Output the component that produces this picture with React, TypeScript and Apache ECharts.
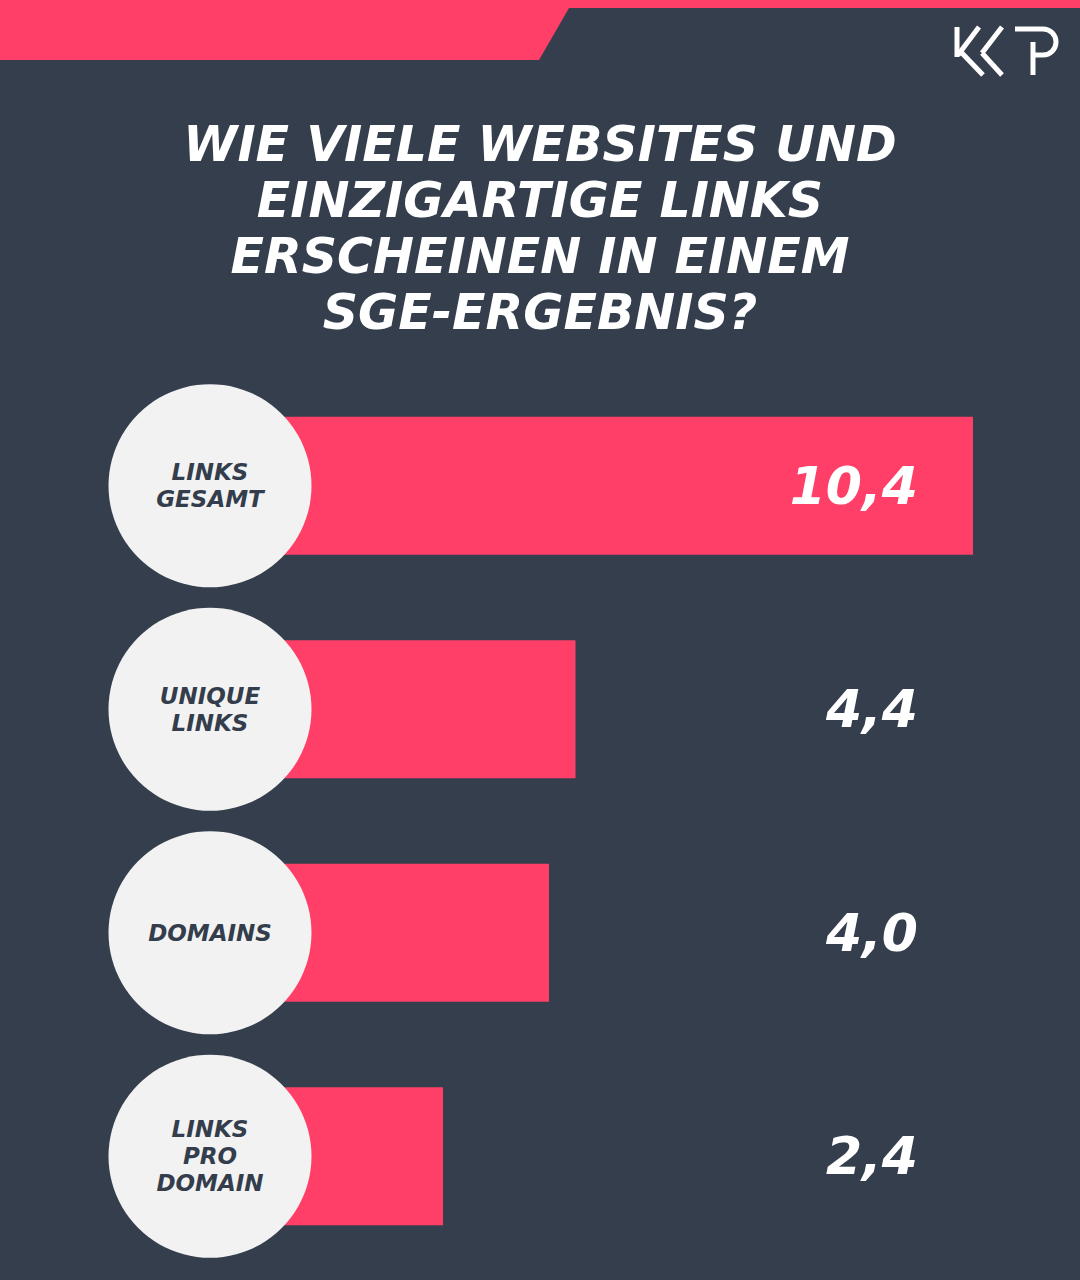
import React, { useEffect, useRef } from "react";
import * as echarts from "echarts";

const categories = ["LINKS\nGESAMT", "UNIQUE\nLINKS", "DOMAINS", "LINKS\nPRO\nDOMAIN"];
const values = [10.4, 4.4, 4.0, 2.4];
const titleLines = ["WIE VIELE WEBSITES UND", "EINZIGARTIGE LINKS", "ERSCHEINEN IN EINEM", "SGE-ERGEBNIS?"];

const BG = "#353e4d";
const PINK = "#ff3f67";
const CIRCLE = "#f2f2f2";
const DARK = "#333d4c";
const FONT = "DejaVu Sans";

const fmt = (v: number) => v.toFixed(1).replace(".", ",");

export default function App() {
  const ref = useRef<HTMLDivElement>(null);
  useEffect(() => {
    document.body.style.margin = "0";
    const chart = echarts.init(ref.current!, null, { renderer: "svg" });
    const white = { stroke: "#ffffff", lineWidth: 5, fill: null as any, lineCap: "butt" };
    const option: any = {
      animation: false,
      backgroundColor: BG,
      grid: [
        { left: 284, right: 107, top: 374, height: 894 },
        { left: 108, width: 204, top: 374, height: 894 },
      ],
      xAxis: [
        { type: "value", gridIndex: 0, min: 0, max: 10.4, show: false },
        { type: "value", gridIndex: 1, min: 0, max: 2, show: false },
      ],
      yAxis: [
        {
          type: "category",
          gridIndex: 0,
          data: categories,
          inverse: true,
          show: false,
        },
        {
          type: "category",
          gridIndex: 0,
          position: "right",
          data: values.map(fmt),
          inverse: true,
          z: 10,
          axisLine: { show: false },
          axisTick: { show: false },
          splitLine: { show: false },
          axisLabel: {
            color: "#ffffff",
            fontFamily: FONT,
            fontSize: 52,
            fontWeight: "bold",
            fontStyle: "italic",
            align: "right",
            margin: -55,
          },
        },
        {
          type: "category",
          gridIndex: 1,
          data: categories,
          inverse: true,
          show: false,
        },
      ],
      series: [
        {
          type: "bar",
          xAxisIndex: 0,
          yAxisIndex: 0,
          data: values,
          barWidth: 138,
          itemStyle: { color: PINK },
          z: 1,
        },
        {
          type: "scatter",
          xAxisIndex: 1,
          yAxisIndex: 2,
          data: categories.map((c, i) => [1, i]),
          symbol: "circle",
          symbolSize: 203,
          itemStyle: { color: CIRCLE, opacity: 1 },
          z: 5,
          label: {
            show: true,
            position: "inside",
            formatter: (p: any) => categories[p.dataIndex],
            color: DARK,
            fontFamily: FONT,
            fontSize: 23,
            lineHeight: 27,
            fontWeight: "bold",
            fontStyle: "italic",
            align: "center",
          },
        },
      ],
      graphic: [
        {
          type: "polygon",
          shape: { points: [[0, 0], [1080, 0], [1080, 8], [569, 8], [539, 60], [0, 60]] },
          style: { fill: PINK },
        },
        {
          type: "text",
          x: 540,
          y: 116,
          style: {
            text: titleLines.join("\n"),
            fill: "#ffffff",
            fontFamily: FONT,
            fontSize: 49,
            fontWeight: "bold",
            fontStyle: "italic",
            lineHeight: 56,
            align: "center",
            verticalAlign: "top",
          },
        },
        { type: "polyline", shape: { points: [[957, 27], [957, 57]] }, style: white },
        { type: "polyline", shape: { points: [[979, 27], [958, 55]] }, style: white },
        { type: "polyline", shape: { points: [[960, 51], [983, 75]] }, style: white },
        { type: "polyline", shape: { points: [[1002, 27], [982, 53]] }, style: white },
        { type: "polyline", shape: { points: [[982, 53], [1002, 75]] }, style: white },
        { type: "polyline", shape: { points: [[1015, 29], [1043, 29]] }, style: white },
        { type: "polyline", shape: { points: [[1033, 42], [1033, 75]] }, style: white },
        { type: "polyline", shape: { points: [[1043, 55], [1031, 55]] }, style: white },
        {
          type: "arc",
          shape: { cx: 1043, cy: 42, r: 13, startAngle: -Math.PI / 2, endAngle: Math.PI / 2 },
          style: white,
        },
      ],
    };
    chart.setOption(option);
    return () => chart.dispose();
  }, []);
  return (
    <div
      ref={ref}
      style={{ position: "fixed", left: 0, top: 0, width: 1080, height: 1280 }}
    />
  );
}
